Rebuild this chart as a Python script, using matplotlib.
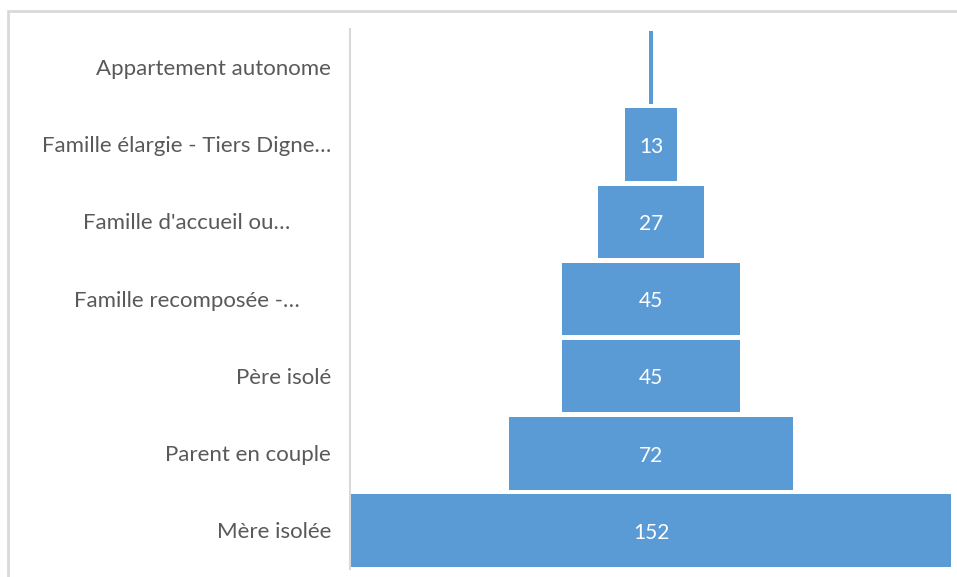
import matplotlib
matplotlib.use("Agg")
import matplotlib.pyplot as plt
from matplotlib.patches import Rectangle

categories = ["Mère isolée", "Parent en couple", "Père isolé", "Famille recomposée -…",
              "Famille d'accueil ou…", "Famille élargie - Tiers Digne…", "Appartement autonome"]
values = [152, 72, 45, 45, 27, 13, 1]
show_label = [True, True, True, True, True, True, False]
wrapped = [False, False, False, True, True, True, False]

W, H = 957, 577
fig = plt.figure(figsize=(W / 100, H / 100), dpi=100)
fig.patch.set_facecolor("white")

FONT = ["Lato", "DejaVu Sans"]

# outer chart frame (cropped on right and bottom)
fig.patches.append(Rectangle((8 / W, -0.1), 1.2, 1 - 11 / H + 0.1, transform=fig.transFigure,
                             fill=False, edgecolor="#d9d9d9", linewidth=2))

ax_left, ax_right = 350 / W, 1.0
ax_bottom, ax_top = 1 - 569 / H, 1 - 29 / H
ax = fig.add_axes([ax_left, ax_bottom, ax_right - ax_left, ax_top - ax_bottom])

scale = 600 / 152  # px per unit
xmin = -(651 - 350) / scale
xmax = (957 - 651) / scale
ax.set_xlim(xmin, xmax)
ax.set_ylim(-0.5, len(categories) - 0.5)

ys = list(range(len(categories)))
ax.barh(ys, values, left=[-v / 2 for v in values], height=0.94, color="#5B9BD5")

for y, v, s in zip(ys, values, show_label):
    if s:
        ax.text(0, y - 0.03, str(v), ha="center", va="center", color="white", fontsize=15,
                family=FONT)

for sp in ["top", "right", "bottom"]:
    ax.spines[sp].set_visible(False)
ax.spines["left"].set_color("#d9d9d9")
ax.spines["left"].set_linewidth(1.5)
ax.set_xticks([])
ax.set_yticks([])

for y, c, w in zip(ys, categories, wrapped):
    yf = ax.transData.transform((0, y - 0.02))[1] / H
    if w:
        fig.text(187 / W, yf, c, ha="center", va="center", color="#595959", fontsize=16,
                 family=FONT)
    else:
        fig.text(331 / W, yf, c, ha="right", va="center", color="#595959", fontsize=16,
                 family=FONT)

fig.savefig("out.png", dpi=100, facecolor="white")
